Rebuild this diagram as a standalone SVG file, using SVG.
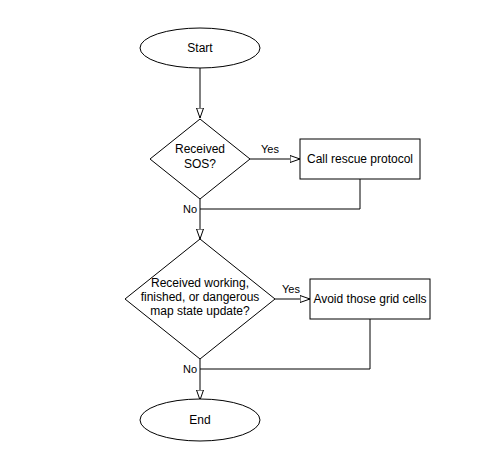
<svg xmlns="http://www.w3.org/2000/svg" width="480" height="457" viewBox="0 0 480 457">
<style>
.s{fill:#fff;stroke:#000;stroke-width:1}
.t{font-family:"Liberation Sans",Arial,sans-serif;font-size:12px;fill:#000;text-anchor:middle}
.l{font-family:"Liberation Sans",Arial,sans-serif;font-size:11px;fill:#000}
.c{fill:none;stroke:#000;stroke-width:1}
</style>
<defs>
<marker id="a" markerUnits="userSpaceOnUse" markerWidth="12" markerHeight="10" refX="10.5" refY="4" orient="auto">
<path d="M0.5,0.5 L10.5,4 L0.5,7.5 Z" fill="#fff" stroke="#000" stroke-width="1"/>
</marker>
</defs>
<rect width="480" height="457" fill="#fff"/>
<g id="connectors">
<path class="c" d="M200,68 V118" marker-end="url(#a)"/>
<path class="c" d="M250,159 H300" marker-end="url(#a)"/>
<path class="c" d="M360,179 V209 H200"/>
<path class="c" d="M200,199 V239" marker-end="url(#a)"/>
<path class="c" d="M275,299 H310" marker-end="url(#a)"/>
<path class="c" d="M370,319 V369 H200"/>
<path class="c" d="M200,359 V400" marker-end="url(#a)"/>
<text class="l" x="270" y="153" text-anchor="middle">Yes</text>
<text class="l" x="197" y="213" text-anchor="end">No</text>
<text class="l" x="291" y="293" text-anchor="middle">Yes</text>
<text class="l" x="197" y="373" text-anchor="end">No</text>
</g>
<g id="start">
<ellipse class="s" cx="200" cy="48" rx="60" ry="20"/>
<text class="t" x="200" y="52">Start</text>
</g>
<g id="sos">
<path class="s" d="M200,119 L250,159 L200,199 L150,159 Z"/>
<text class="t" x="200" y="153">Received</text>
<text class="t" x="200" y="168">SOS?</text>
</g>
<g id="rescue">
<rect class="s" x="300" y="139" width="120" height="40"/>
<text class="t" x="360" y="163">Call rescue protocol</text>
</g>
<g id="mapstate">
<path class="s" d="M200,239 L275,299 L200,359 L125,299 Z"/>
<text class="t" x="200" y="287">Received working,</text>
<text class="t" x="200" y="301">finished, or dangerous</text>
<text class="t" x="200" y="315">map state update?</text>
</g>
<g id="avoid">
<rect class="s" x="310" y="279" width="120" height="40"/>
<text class="t" x="370" y="303">Avoid those grid cells</text>
</g>
<g id="end">
<ellipse class="s" cx="200" cy="420" rx="60" ry="21"/>
<text class="t" x="200" y="424">End</text>
</g>
</svg>
